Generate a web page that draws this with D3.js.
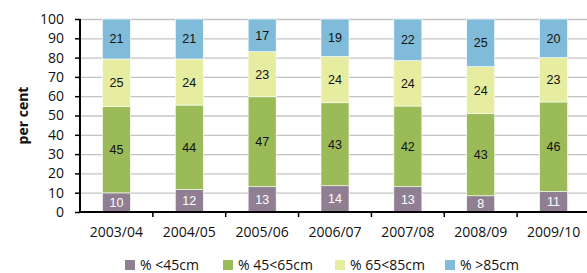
<!DOCTYPE html>
<html>
<head>
<meta charset="utf-8">
<script src="https://cdn.jsdelivr.net/npm/d3@7"></script>
<style>
  body { margin: 0; background: #fff; }
  svg { display: block; }
</style>
</head>
<body>
<svg id="chart"></svg>
<script>
// datos
const years = ['2003/04', '2004/05', '2005/06', '2006/07', '2007/08', '2008/09', '2009/10'];
const under45 = [9.9, 11.6, 13.1, 13.6, 13.1, 8.4, 10.6];
const from45to65 = [44.7, 43.8, 46.6, 43.0, 41.8, 42.6, 46.4];
const from65to85 = [24.7, 23.9, 23.4, 24.0, 23.5, 24.3, 23.0];
const over85 = [20.7, 20.7, 16.9, 19.4, 21.6, 24.7, 20.0];
const seriesNames = ['% <45cm', '% 45<65cm', '% 65<85cm', '% >85cm'];
const yTicks = [0, 10, 20, 30, 40, 50, 60, 70, 80, 90, 100];

const colors = ['#907f93', '#9bbb59', '#e6eda0', '#80bcd9'];
const labelColors = ['#fff', '#111', '#111', '#111'];

const width = 587;
const height = 273;
const mLeft = 80, mRight = 590, mTop = 19, mBottom = 212;

const rows = years.map((y, i) => ({
  year: y, s0: under45[i], s1: from45to65[i], s2: from65to85[i], s3: over85[i]
}));
const stack = d3.stack().keys(['s0', 's1', 's2', 's3'])(rows);

const xScale = d3.scaleBand().domain(years).range([mLeft, mRight]).padding(0);
const yScale = d3.scaleLinear().domain([0, 100]).range([mBottom, mTop]);
const barW = 28;

const svg = d3.select('#chart').attr('width', width).attr('height', height)
  .style('font-family', '"Open Sans", "Noto Sans", sans-serif');

// rejilla
svg.append('g').selectAll('line')
  .data(yTicks.filter(d => d > 0))
  .enter().append('line')
  .attr('x1', mLeft).attr('x2', width)
  .attr('y1', d => yScale(d) + 0.5).attr('y2', d => yScale(d) + 0.5)
  .attr('stroke', '#c4c4c4').attr('stroke-width', 1.3);

// barras
const layers = svg.append('g').selectAll('g')
  .data(stack).enter().append('g')
  .attr('fill', (d, i) => colors[i]);

layers.selectAll('rect')
  .data(d => d)
  .enter().append('rect')
  .attr('x', d => xScale(d.data.year) + xScale.bandwidth() / 2 - barW / 2)
  .attr('width', barW)
  .attr('y', d => yScale(Math.min(d[1], 100)))
  .attr('height', d => yScale(d[0]) - yScale(Math.min(d[1], 100)))
  .attr('stroke', '#fff').attr('stroke-width', 0.6);

// etiquetas
stack.forEach((layer, i) => {
  svg.append('g').selectAll('text')
    .data(layer).enter().append('text')
    .attr('x', d => xScale(d.data.year) + xScale.bandwidth() / 2)
    .attr('y', d => (yScale(d[0]) + yScale(d[1])) / 2 + 4.5)
    .attr('text-anchor', 'middle')
    .attr('font-family', '"Liberation Sans", Arial, sans-serif')
    .attr('font-size', 12.5)
    .attr('fill', labelColors[i])
    .text(d => Math.round(d[1] - d[0]));
});

// ejes
const yAxis = d3.axisLeft(yScale).tickValues(yTicks).tickSize(5).tickPadding(11);
const gy = svg.append('g').attr('transform', `translate(${mLeft},0)`).call(yAxis);
gy.select('.domain').attr('stroke', '#000').attr('stroke-width', 2)
  .attr('d', `M0,${mTop}V${mBottom}`);
gy.selectAll('.tick line').attr('stroke', '#000').attr('stroke-width', 1.5);
gy.selectAll('.tick text').attr('font-size', 14).attr('fill', '#111')
  .attr('font-family', '"Open Sans", sans-serif');

const gx = svg.append('g').attr('transform', `translate(0,${mBottom})`);
gx.append('line').attr('x1', mLeft - 1).attr('x2', width)
  .attr('y1', 0).attr('y2', 0).attr('stroke', '#000').attr('stroke-width', 2);
gx.selectAll('.tk').data(years.slice(1)).enter().append('line')
  .attr('x1', d => xScale(d)).attr('x2', d => xScale(d))
  .attr('y1', 0).attr('y2', 5).attr('stroke', '#000').attr('stroke-width', 1.5);
gx.selectAll('text').data(years).enter().append('text')
  .attr('x', d => xScale(d) + xScale.bandwidth() / 2)
  .attr('y', 25)
  .attr('text-anchor', 'middle')
  .attr('font-size', 14).attr('fill', '#111')
  .text(d => d);

svg.append('text')
  .attr('transform', `translate(28,${(mTop + mBottom) / 2}) rotate(-90)`)
  .attr('text-anchor', 'middle')
  .attr('font-size', 14).attr('font-weight', 'bold').attr('fill', '#111')
  .text('per cent');

// leyenda
const legendX = [125, 223, 335, 445];
const legend = svg.append('g').selectAll('g')
  .data(seriesNames).enter().append('g')
  .attr('transform', (d, i) => `translate(${legendX[i]},260)`);
legend.append('rect').attr('width', 10).attr('height', 10)
  .attr('fill', (d, i) => colors[i]);
legend.append('text').attr('x', 15).attr('y', 10)
  .attr('font-size', 14).attr('fill', '#111')
  .text(d => d);
</script>
</body>
</html>
